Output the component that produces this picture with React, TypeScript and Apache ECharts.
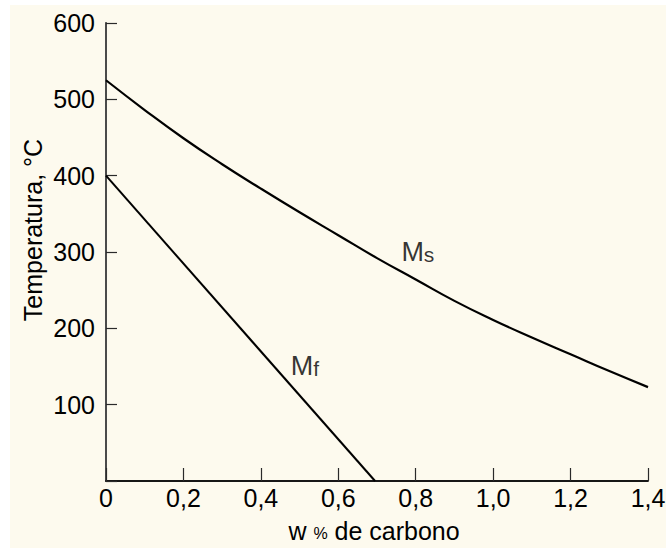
import React, { useEffect, useRef } from "react";
import * as echarts from "echarts";

const msCarbon = [0, 0.1, 0.2, 0.3, 0.4, 0.5, 0.6, 0.7, 0.8, 0.9, 1.0, 1.1, 1.2, 1.3, 1.4];
const msTemp = [525, 486, 449, 415, 383, 352, 322, 292, 264, 236, 211, 188, 166, 144, 123];
const mfCarbon = [0, 0.695];
const mfTemp = [400, 0];
const xTicks = [0, 0.2, 0.4, 0.6, 0.8, 1.0, 1.2, 1.4];
const yTicks = [100, 200, 300, 400, 500, 600];
const curveLabels = [
  { name: "Ms", at: [0.763, 300] },
  { name: "Mf", at: [0.477, 151] },
];

const FONT = "Arial, 'Liberation Sans', sans-serif";

export default function App() {
  const ref = useRef<HTMLDivElement>(null);
  useEffect(() => {
    if (!ref.current) return;
    const chart = echarts.init(ref.current, null, { renderer: "svg" });
    const fmtX = (v: number) => {
      const hit = xTicks.find((t) => Math.abs(t - v) < 1e-6);
      if (hit === undefined) return "";
      return hit === 0 ? "0" : hit.toFixed(1).replace(".", ",");
    };
    const fmtY = (v: number) => (yTicks.indexOf(v) >= 0 ? String(v) : "");
    chart.setOption({
      animation: false,
      backgroundColor: "transparent",
      textStyle: { fontFamily: FONT },
      grid: { left: 106, top: 23, right: 18, bottom: 68, outerBoundsMode: "none", containLabel: false },
      xAxis: [
        {
          type: "value",
          min: 0,
          max: 1.4,
          interval: 0.2,
          axisLine: { lineStyle: { color: "#2a2a2a", width: 1.5 } },
          axisTick: { inside: true, length: 13, lineStyle: { color: "#2a2a2a", width: 1.2 } },
          axisLabel: { formatter: fmtX, fontSize: 25, color: "#000", margin: 4, fontFamily: FONT, showMinLabel: true, showMaxLabel: true },
          splitLine: { show: false },
        },
        {
          type: "value",
          position: "top",
          min: 0,
          max: 1.4,
          axisLine: { show: true, lineStyle: { color: "#000", width: 1.5 } },
          axisTick: { show: false },
          axisLabel: { show: false },
          splitLine: { show: false },
        },
      ],
      yAxis: [
        {
          type: "value",
          min: 0,
          max: 600,
          interval: 100,
          axisLine: { show: true, lineStyle: { color: "#7a7a7a", width: 1.5 } },
          axisTick: { show: true, inside: true, length: 11, lineStyle: { color: "#2a2a2a", width: 1.2 } },
          axisLabel: { formatter: fmtY, fontSize: 25, color: "#000", margin: 11, fontFamily: FONT },
          splitLine: { show: false },
        },
        {
          type: "value",
          position: "right",
          min: 0,
          max: 600,
          axisLine: { show: true, lineStyle: { color: "#4a4a4a", width: 2 } },
          axisTick: { show: false },
          axisLabel: { show: false },
          splitLine: { show: false },
        },
      ],
      series: [
        {
          type: "line",
          name: "Ms",
          smooth: 0.5,
          symbol: "none",
          lineStyle: { color: "#000", width: 2.2 },
          data: msCarbon.map((c, i) => [c, msTemp[i]]),
        },
        {
          type: "line",
          name: "Mf",
          symbol: "none",
          lineStyle: { color: "#000", width: 2 },
          data: mfCarbon.map((c, i) => [c, mfTemp[i]]),
        },
        {
          type: "scatter",
          symbolSize: 0,
          silent: true,
          data: curveLabels.map((l) => ({ value: l.at, name: l.name })),
          label: {
            show: true,
            position: "right",
            distance: 0,
            formatter: (p: any) => "{m|M}{s|" + p.name.slice(1) + "}",
            rich: {
              m: { fontSize: 27, color: "#000", fontFamily: FONT },
              s: { fontSize: 21, color: "#000", fontFamily: FONT, padding: [5, 0, 0, 0] },
            },
          },
        },
      ],
      graphic: [
        {
          type: "text",
          x: 374,
          y: 531,
          style: {
            text: "{a|w }{p|%}{a| de carbono}",
            align: "center",
            verticalAlign: "middle",
            fill: "#000",
            rich: {
              a: { fontSize: 25, fontFamily: FONT, fill: "#000" },
              p: { fontSize: 16, fontFamily: FONT, fill: "#000", padding: [5, 0, 0, 0] },
            },
          },
        },
        {
          type: "text",
          x: 33,
          y: 230,
          rotation: Math.PI / 2,
          style: {
            text: "Temperatura, °C",
            align: "center",
            verticalAlign: "middle",
            fontSize: 25,
            fontFamily: FONT,
            fill: "#000",
          },
        },
      ],
    });
    return () => chart.dispose();
  }, []);
  return (
    <div style={{ position: "fixed", left: 0, top: 0, width: 666, height: 549, background: "#fff" }}>
      <div style={{ position: "absolute", left: 10, top: 5, width: 656, height: 543, background: "#FDFAEE" }} />
      <div ref={ref} style={{ position: "absolute", left: 0, top: 0, width: 666, height: 549 }} />
    </div>
  );
}
